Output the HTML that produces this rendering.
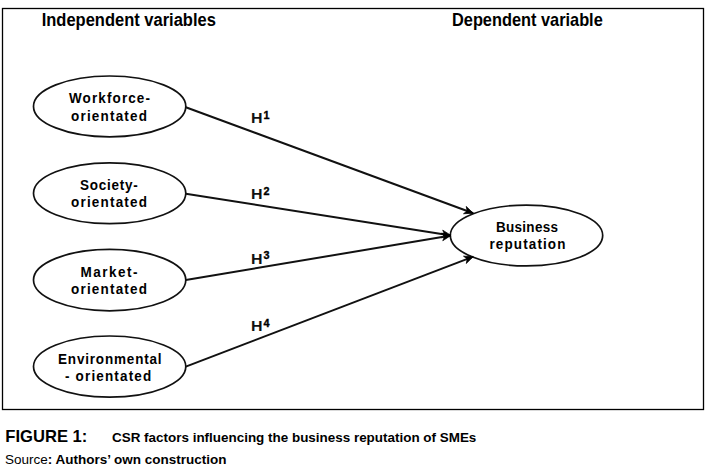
<!DOCTYPE html>
<html><head><meta charset="utf-8">
<style>
html,body{margin:0;padding:0;background:#fff;width:711px;height:474px;overflow:hidden;position:relative;}
svg{position:absolute;left:0;top:0;}
text{font-family:"Liberation Sans",sans-serif;fill:#000;}
.hd{font-weight:bold;font-size:16.5px;}
.el{font-weight:bold;font-size:13.5px;fill:#000;}
.h{font-weight:bold;font-size:16px;fill:#111;}
.sp{font-weight:bold;font-size:10.8px;fill:#000;stroke:#000;stroke-width:0.35px;}
</style></head><body>
<svg width="711" height="474" viewBox="0 0 711 474">
  <defs>
    <marker id="ar" markerWidth="12" markerHeight="12" refX="0" refY="0" viewBox="-10 -6 12 12" orient="auto" markerUnits="userSpaceOnUse">
      <path d="M0,0 L-9,-3.9 L-6.5,0 L-9,3.9 Z" fill="#000" stroke="#000" stroke-width="0.7" stroke-linejoin="miter"/>
    </marker>
  </defs>
  <rect x="2.5" y="8.5" width="701" height="401" fill="none" stroke="#000" stroke-width="1.3"/>
  <g fill="none" stroke="#111" stroke-width="1.7">
    <ellipse cx="109.65" cy="106.4" rx="76.15" ry="30.4"/>
    <ellipse cx="109.65" cy="193.25" rx="76.15" ry="30.45"/>
    <ellipse cx="109.65" cy="280.1" rx="76.15" ry="30.7"/>
    <ellipse cx="109.65" cy="366.6" rx="76.15" ry="30.6"/>
    <ellipse cx="526.5" cy="235.5" rx="76.2" ry="30.4"/>
  </g>
  <g fill="none" stroke="#111" stroke-width="2">
    <line x1="185.8" y1="107.2" x2="473.3" y2="213.2" marker-end="url(#ar)"/>
    <line x1="185.8" y1="193.7" x2="451" y2="235.4" marker-end="url(#ar)"/>
    <line x1="185.8" y1="280.1" x2="451" y2="235.4" marker-end="url(#ar)"/>
    <line x1="185.8" y1="366.6" x2="473.3" y2="256.6" marker-end="url(#ar)"/>
  </g>

  <text class="hd" transform="translate(41.7,26) scale(1,1.07)">Independent variables</text>
  <text class="hd" style="font-size:16.35px" transform="translate(452,26) scale(1,1.07)">Dependent variable</text>

  <text class="el" transform="translate(69,103.2) scale(1,1.1)" letter-spacing="1.11">Workforce-</text>
  <text class="el" transform="translate(71,120.8) scale(1,1.1)" letter-spacing="1.19">orientated</text>
  <text class="el" transform="translate(80,189.6) scale(1,1.1)" letter-spacing="0.75">Society-</text>
  <text class="el" transform="translate(71,206.5) scale(1,1.1)" letter-spacing="1.19">orientated</text>
  <text class="el" transform="translate(80.5,276.6) scale(1,1.1)" letter-spacing="1.51">Market-</text>
  <text class="el" transform="translate(71,293.5) scale(1,1.1)" letter-spacing="1.19">orientated</text>
  <text class="el" transform="translate(58,364.2) scale(1,1.1)" letter-spacing="0.82">Environmental</text>
  <text class="el" transform="translate(65,380.7) scale(1,1.1)" letter-spacing="1.16">- orientated</text>
  <text class="el" transform="translate(496,232.3) scale(1,1.1)" letter-spacing="0.28">Business</text>
  <text class="el" transform="translate(489.5,249.2) scale(1,1.1)" letter-spacing="1.11">reputation</text>

  <text class="h" transform="translate(251,122.5) scale(1,0.93)">H</text><text class="sp" x="263.5" y="118.7">1</text>
  <text class="h" transform="translate(251,198.6) scale(1,0.93)">H</text><text class="sp" x="263.5" y="194.6">2</text>
  <text class="h" transform="translate(251,263.6) scale(1,0.93)">H</text><text class="sp" x="263.5" y="258.5">3</text>
  <text class="h" transform="translate(251,330.7) scale(1,0.93)">H</text><text class="sp" x="263.5" y="326.7">4</text>

  <text x="5.3" y="441.6" style="font-size:16.6px;font-weight:bold;">FIGURE 1:</text>
  <text x="112" y="441.7" style="font-size:13.45px;font-weight:bold;">CSR factors influencing the business reputation of SMEs</text>
  <text x="5" y="464.4" style="font-size:13.5px;">Source<tspan style="font-weight:bold;">: Authors’ own construction</tspan></text>
</svg>
</body></html>
